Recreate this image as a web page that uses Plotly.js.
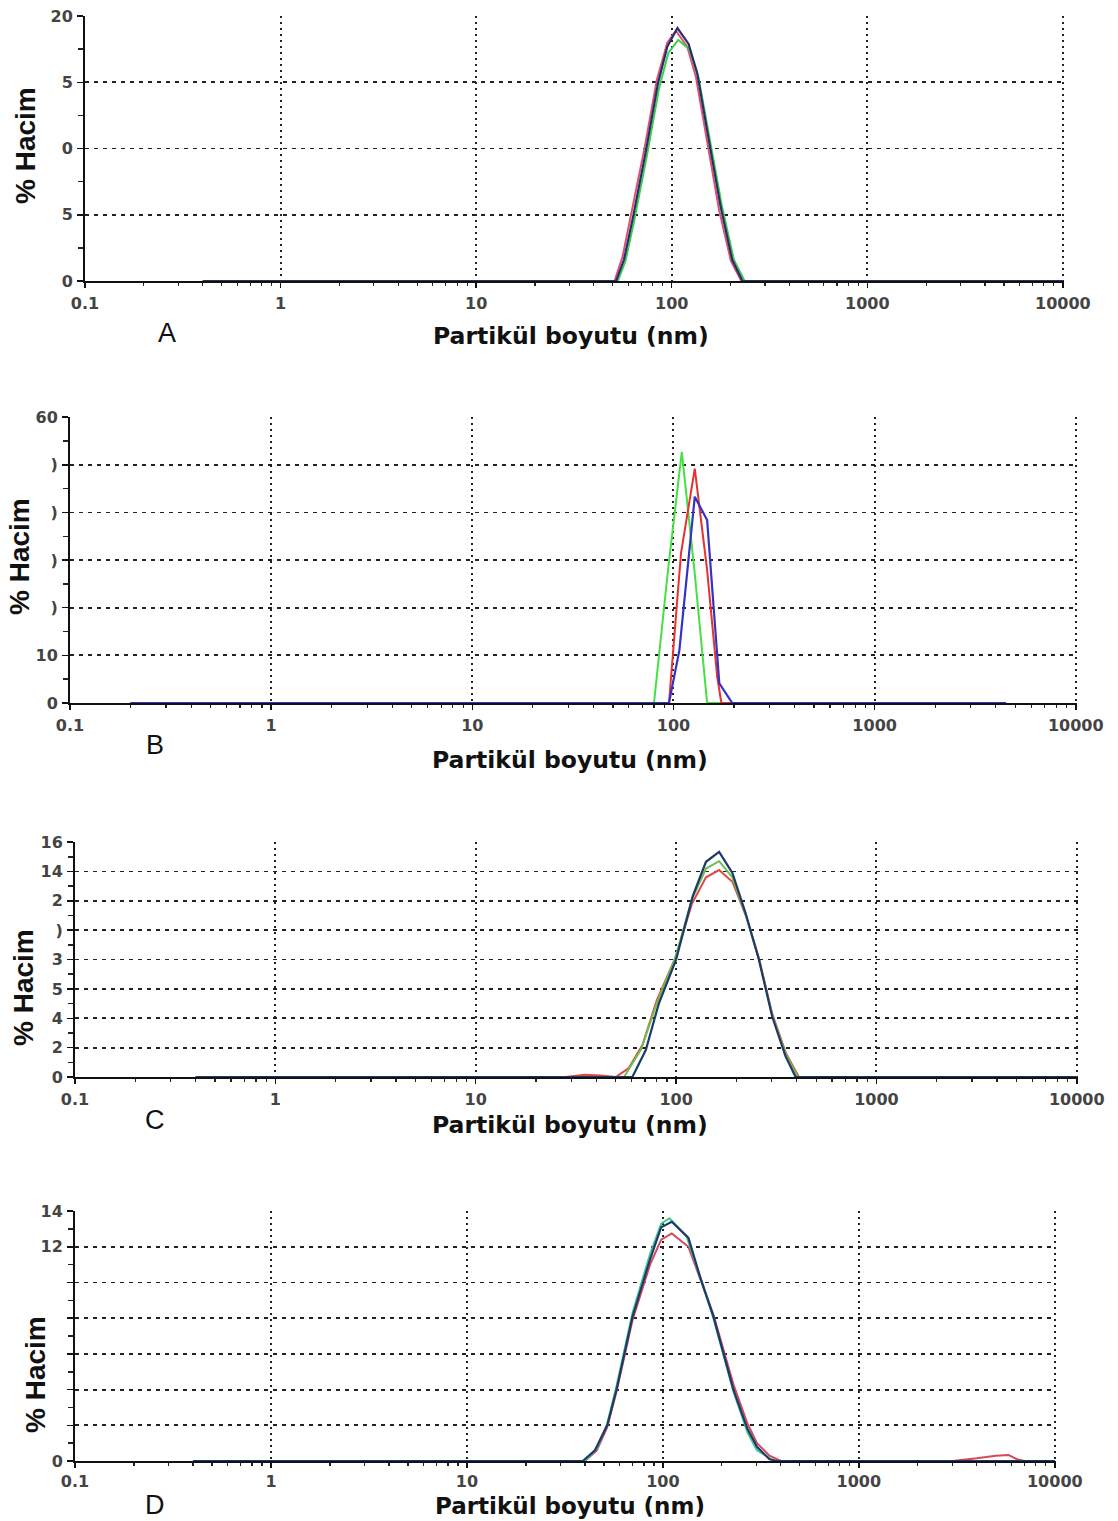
<!DOCTYPE html>
<html>
<head>
<meta charset="utf-8">
<script src="https://cdn.plot.ly/plotly-3.0.1.min.js"></script>
<style>html,body{margin:0;padding:0;background:#fff;}#chart{width:1118px;height:1521px;}</style>
</head>
<body>
<div id="chart"></div>
<script>
// ---------- DATA (particle size in nm, % volume) ----------
// Panel A
const A_red_x   = [0.4, 51, 56, 62, 73, 84, 95, 105, 120, 133, 153, 175, 201, 227, 10000];
const A_red_y   = [0,   0, 1.8, 5.0, 10.2, 15.2, 18.0, 18.9, 17.7, 15.4, 10.4, 5.3, 1.5, 0, 0];
const A_green_x = [0.4, 53, 58, 64, 75, 86, 96, 108, 123, 137, 157, 181, 208, 236, 10000];
const A_green_y = [0,   0, 1.5, 4.4, 9.6, 14.5, 17.2, 18.2, 17.5, 15.4, 10.6, 5.6, 1.6, 0, 0];
const A_navy_x  = [0.4, 52, 57, 63, 74, 85, 95, 107, 122, 135, 155, 178, 204, 230, 10000];
const A_navy_y  = [0,   0, 1.6, 4.6, 9.9, 14.9, 17.7, 19.1, 17.9, 15.7, 10.6, 5.6, 1.6, 0, 0];
// Panel B
const B_green_x = [0.2, 80, 94, 110, 127, 147, 4500];
const B_green_y = [0,   0, 28, 52.7, 28, 0, 0];
const B_red_x   = [0.2, 95, 109, 127.6, 147, 165, 173, 4500];
const B_red_y   = [0,   0, 31.4, 49.2, 27.9, 5.5, 0, 0];
const B_blue_x  = [0.2, 95, 107, 127.6, 147, 169, 196, 4500];
const B_blue_y  = [0,   0, 11.1, 43.3, 38.4, 4.1, 0, 0];
// Panel C
const C_red_x   = [0.4, 28, 35, 42, 50, 58, 68, 80, 99, 120, 141, 164, 191, 223, 259, 302, 354, 410, 10000];
const C_red_y   = [0,   0, 0.15, 0.1, 0, 0.6, 2.2, 5.2, 8.1, 11.8, 13.6, 14.1, 13.3, 11.0, 8.1, 4.3, 1.6, 0, 0];
const C_green_x = [0.4, 55, 67, 80, 99, 120, 141, 164, 191, 223, 259, 302, 354, 405, 10000];
const C_green_y = [0,   0, 1.9, 5.0, 8.1, 12.1, 14.2, 14.7, 13.6, 11.0, 8.0, 4.2, 1.5, 0, 0];
const C_navy_x  = [0.4, 60.5, 70.6, 82, 100, 121, 141, 164, 191, 223, 259, 302, 352, 395, 10000];
const C_navy_y  = [0,   0, 1.84, 5.0, 8.0, 12.3, 14.66, 15.34, 13.9, 11.1, 8.0, 4.1, 1.4, 0, 0];
// Panel D
const D_red_x   = [0.4, 40, 46, 52, 58, 70, 86, 98, 111, 135, 155, 181, 229, 270, 302, 350, 400, 3000, 4000, 5000, 5800, 6400, 7000, 10000];
const D_red_y   = [0,   0, 0.6, 1.9, 3.9, 7.9, 11.0, 12.4, 12.75, 12.0, 10.2, 8.2, 4.3, 2.1, 1.0, 0.3, 0, 0, 0.15, 0.3, 0.34, 0.1, 0, 0];
const D_green_x = [0.4, 40, 46, 52, 58, 70, 86, 98, 108, 132, 155, 181, 229, 270, 302, 370, 10000];
const D_green_y = [0,   0, 0.7, 2.1, 4.2, 8.3, 11.6, 13.3, 13.6, 12.6, 10.3, 8.0, 3.9, 1.6, 0.6, 0, 0];
const D_navy_x  = [0.4, 39, 45, 52, 58, 70, 86, 98, 111, 135, 155, 181, 229, 270, 302, 350, 383, 10000];
const D_navy_y  = [0,   0, 0.6, 2.0, 4.0, 8.1, 11.3, 13.1, 13.4, 12.5, 10.3, 8.1, 4.0, 1.8, 0.8, 0.1, 0, 0];

// Tick labels
const xTickVals = [0.1, 1, 10, 100, 1000, 10000];
const xTickText = ["0.1", "1", "10", "100", "1000", "10000"];
const A_yVals = [0, 5, 10, 15, 20];
const A_yText = ["0", "5", "0", "5", "20"];
const B_yVals = [0, 10, 20, 30, 40, 50, 60];
const B_yText = ["0", "10", ")", ")", ")", ")", "60"];
const C_yVals = [0, 2, 4, 6, 8, 10, 12, 14, 16];
const C_yText = ["0", "2", "4", "5", "3", ")", "2", "14", "16"];
const D_yVals = [0, 2, 4, 6, 8, 10, 12, 14];
const D_yText = ["0", "", "", "", "", "", "12", "14"];
const panelLetters = ["A", "B", "C", "D"];
const xTitle = "Partikül boyutu (nm)";
const yTitle = "% Hacim";

// ---------- LAYOUT ----------
const W = 1118, H = 1521;
const XMAX = 4.006;  // small pad so the 10000 grid line is drawn at the right edge
const boxes = [
  {L:85, R:1064, T:16,  B:281,  ymax:20, ymin:2.5, yv:A_yVals, yt:A_yText, letter:[167,333], title:[571,336], ytit:[25,146], xs:2, ts:23.5},
  {L:70, R:1077, T:417, B:703,  ymax:60, ymin:5,   yv:B_yVals, yt:B_yText, letter:[155,745], title:[570,760], ytit:[20,557], xs:2, ts:23.5},
  {L:75, R:1078, T:842, B:1077, ymax:16, ymin:1,   yv:C_yVals, yt:C_yText, letter:[155,1120], title:[570,1125], ytit:[23,988], xs:2, ts:23.5},
  {L:75, R:1056, T:1211,B:1461, ymax:14, ymin:1,   yv:D_yVals, yt:D_yText, letter:[155,1505], title:[570,1506], ytit:[35,1375], xs:0, ts:23}
];

const minorX = [];
for (let d = -1; d < 4; d++) for (let k = 2; k <= 9; k++) minorX.push(k * Math.pow(10, d));

const tickFont = {family: "DejaVu Sans", size: 16, color: "#444", weight: "bold"};
const layout = {
  width: W, height: H, margin: {l:0, r:0, t:0, b:0},
  paper_bgcolor: "#fff", plot_bgcolor: "#fff", showlegend: false,
  annotations: []
};

boxes.forEach((b, i) => {
  const n = i === 0 ? "" : String(i + 1);
  layout["xaxis" + n] = {
    type: "log", range: [-1, XMAX], domain: [b.L / W, b.R / W], anchor: "y" + n,
    tickmode: "array", tickvals: xTickVals, ticktext: xTickText, tickfont: tickFont,
    ticks: "outside", ticklen: 5, tickwidth: 1.5, tickcolor: "#111", ticklabelstandoff: b.xs,
    showline: true, linecolor: "#111", linewidth: 2,
    showgrid: true, gridcolor: "#222", gridwidth: 2, griddash: "2px,4px",
    minor: {tickmode: "array", tickvals: minorX, ticks: "outside", ticklen: 3, tickwidth: 1.2, tickcolor: "#222", showgrid: false},
    zeroline: false, fixedrange: true
  };
  layout["yaxis" + n] = {
    range: [0, b.ymax * 1.0005], domain: [1 - b.B / H, 1 - b.T / H], anchor: "x" + n,
    tickmode: "array", tickvals: b.yv, ticktext: b.yt, tickfont: tickFont,
    ticks: "outside", ticklen: 6, tickwidth: 1.5, tickcolor: "#111", ticklabelstandoff: 1,
    showline: true, linecolor: "#111", linewidth: 2,
    showgrid: true, gridcolor: "#222", gridwidth: 1.8, griddash: "4px,5px",
    minor: {dtick: b.ymin, ticks: "outside", ticklen: 5, tickwidth: 1.5, tickcolor: "#222", showgrid: false},
    zeroline: false, fixedrange: true
  };
  layout.annotations.push(
    {text: xTitle, xref: "paper", yref: "paper", x: b.title[0] / W, y: 1 - b.title[1] / H,
     xanchor: "center", yanchor: "middle", showarrow: false,
     font: {family: "DejaVu Sans", size: b.ts, color: "#111", weight: "bold"}},
    {text: panelLetters[i], xref: "paper", yref: "paper", x: b.letter[0] / W, y: 1 - b.letter[1] / H,
     xanchor: "center", yanchor: "middle", showarrow: false,
     font: {family: "Liberation Sans", size: 27, color: "#111"}},
    {text: yTitle, xref: "paper", yref: "paper", x: b.ytit[0] / W, y: 1 - b.ytit[1] / H,
     xanchor: "center", yanchor: "middle", showarrow: false, textangle: -90,
     font: {family: "Liberation Sans", size: 28, color: "#111", weight: "bold"}}
  );
});

function tr(x, y, color, ax, w) {
  return {x: x, y: y, type: "scatter", mode: "lines", line: {color: color, width: w || 2},
          xaxis: "x" + ax, yaxis: "y" + ax, hoverinfo: "skip"};
}

const data = [
  tr(A_red_x, A_red_y, "#e2506e", ""),
  tr(A_green_x, A_green_y, "#3ccf4a", ""),
  tr(A_navy_x, A_navy_y, "#23306e", "", 2.2),
  tr(B_green_x, B_green_y, "#44e044", "2"),
  tr(B_red_x, B_red_y, "#e83030", "2"),
  tr(B_blue_x, B_blue_y, "#3434c0", "2", 2.2),
  tr(C_red_x, C_red_y, "#e04848", "3"),
  tr(C_green_x, C_green_y, "#6cc050", "3"),
  tr(C_navy_x, C_navy_y, "#1e3a6a", "3", 2.2),
  tr(D_red_x, D_red_y, "#d84858", "4"),
  tr(D_green_x, D_green_y, "#40cc88", "4"),
  tr(D_navy_x, D_navy_y, "#1c3a70", "4", 2.2)
];

Plotly.newPlot("chart", data, layout, {staticPlot: true, displayModeBar: false});
</script>
</body>
</html>
